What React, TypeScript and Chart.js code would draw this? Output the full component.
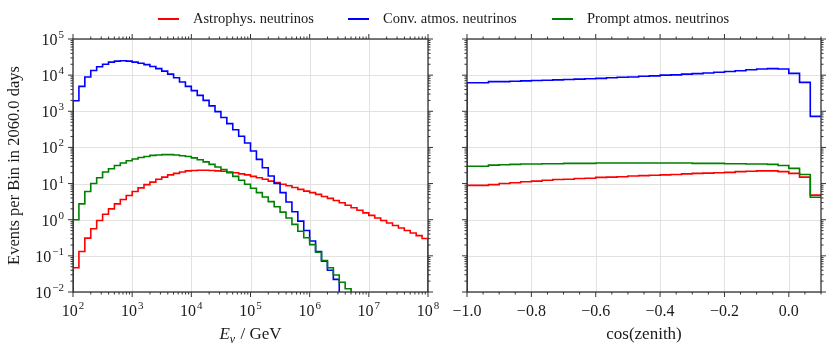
import React, { useEffect, useRef } from 'react';
import { Chart, registerables } from 'chart.js';

Chart.register(...registerables);

// ---------- data ----------
const SERIES_LABELS = ['Astrophys. neutrinos', 'Conv. atmos. neutrinos', 'Prompt atmos. neutrinos'];
const SERIES_COLORS = ['#ff0000', '#0000ff', '#008000'];

// energy histogram: 60 log-spaced bins between 10^2 and 10^8 GeV
const ENERGY_LOG_MIN = 2;
const ENERGY_LOG_MAX = 8;
const ENERGY_BINS = 60;

// cos(zenith) histogram: 33 bins between -1.0 and 0.1
const COSZ_MIN = -1.0;
const COSZ_MAX = 0.1;
const COSZ_BINS = 33;

const ENERGY_ASTRO = [
  0.0468, 0.132, 0.309, 0.562, 0.955, 1.41, 2.0, 2.75, 3.63, 4.68,
  6.03, 7.59, 9.33, 11.0, 13.2, 15.1, 17.4, 19.1, 20.9, 22.4,
  22.9, 23.4, 23.4, 22.9, 22.4, 21.9, 20.9, 20.0, 18.6, 17.4,
  15.8, 14.5, 13.2, 11.7, 10.7, 9.55, 8.71, 7.76, 6.92, 6.17,
  5.62, 5.01, 4.37, 3.89, 3.39, 2.95, 2.51, 2.14, 1.82, 1.55,
  1.32, 1.12, 0.955, 0.813, 0.692, 0.589, 0.501, 0.427, 0.363, 0.302,
];
const ENERGY_CONV = [
  1950, 4900, 8900, 13500, 17000, 20000, 22900, 24500, 25100, 24500,
  22900, 21400, 19500, 17400, 15100, 12900, 10700, 8500, 6460, 4900,
  3720, 2750, 2000, 1410, 977, 676, 457, 309, 204, 132,
  79.4, 46.8, 27.5, 16.2, 10.0, 5.62, 3.09, 1.66, 0.912, 0.501,
  0.257, 0.132, 0.0708, 0.0398, 0.0224, 0, 0, 0, 0, 0,
  0, 0, 0, 0, 0, 0, 0, 0, 0, 0,
];
const ENERGY_PROMPT = [
  1.0, 2.75, 6.03, 10.0, 14.5, 20.9, 25.7, 31.6, 37.2, 42.7,
  47.9, 52.5, 56.2, 60.3, 61.7, 63.1, 63.1, 61.7, 58.9, 56.2,
  51.3, 45.7, 39.8, 33.9, 28.8, 24.5, 20.0, 15.8, 12.3, 9.55,
  7.41, 5.62, 4.27, 3.16, 2.29, 1.62, 1.12, 0.741, 0.479, 0.316,
  0.204, 0.126, 0.0741, 0.0468, 0.0295, 0.0186, 0.0123, 0, 0, 0,
  0, 0, 0, 0, 0, 0, 0, 0, 0, 0,
];

const COSZ_ASTRO = [
  8.91, 8.91, 9.33, 10.0, 10.5, 11.2, 11.7, 12.3, 12.9, 13.2,
  13.8, 14.1, 14.8, 15.1, 15.5, 16.2, 16.6, 17.0, 17.4, 17.8,
  18.6, 19.1, 19.5, 20.0, 20.4, 21.4, 21.9, 22.4, 22.4, 21.4,
  19.1, 15.1, 4.79,
];
const COSZ_CONV = [
  6170, 6170, 6610, 6610, 6760, 6920, 7080, 7240, 7410, 7590,
  7760, 7940, 8130, 8510, 8710, 8910, 9330, 9550, 10000, 10200,
  10700, 11000, 11500, 12000, 12600, 13200, 14100, 14800, 15100, 14800,
  11200, 6310, 724,
];
const COSZ_PROMPT = [
  30.2, 30.2, 32.4, 33.1, 33.9, 34.7, 34.7, 35.5, 35.5, 36.3,
  36.3, 36.3, 37.2, 37.2, 37.2, 37.2, 37.2, 37.2, 37.2, 37.2,
  37.2, 36.3, 36.3, 36.3, 35.5, 35.5, 34.7, 34.7, 33.9, 31.6,
  26.3, 17.8, 4.17,
];

const Y_TICK_EXPONENTS = [-2, -1, 0, 1, 2, 3, 4, 5];
const E_TICK_EXPONENTS = [2, 3, 4, 5, 6, 7, 8];
const COSZ_TICKS = [-1.0, -0.8, -0.6, -0.4, -0.2, 0.0];
const COSZ_TICK_LABELS = ['\u22121.0', '\u22120.8', '\u22120.6', '\u22120.4', '\u22120.2', '0.0'];
const COSZ_MINOR_STEP = 0.05;

const Y_LABEL = 'Events per Bin in 2060.0 days';
const X_LABEL_RIGHT = 'cos(zenith)';

// ---------- style ----------
const FONT = '"Liberation Serif", "DejaVu Serif", serif';
const TEXT = '#1a1a1a';
const AXIS = '#333333';
const GRID = '#e2e2e2';
const FLOOR = 1e-4; // empty bins are drawn below the axis (clipped)

function histPoints(edges: number[], values: number[]) {
  const pts: { x: number; y: number }[] = [{ x: edges[0], y: FLOOR }];
  for (let i = 0; i < values.length; i++) {
    pts.push({ x: edges[i], y: values[i] > 0 ? values[i] : FLOOR });
  }
  const last = values[values.length - 1];
  pts.push({ x: edges[values.length], y: last > 0 ? last : FLOOR });
  pts.push({ x: edges[values.length], y: FLOOR });
  return pts;
}

function line(ctx: CanvasRenderingContext2D, x1: number, y1: number, x2: number, y2: number) {
  ctx.beginPath();
  ctx.moveTo(x1, y1);
  ctx.lineTo(x2, y2);
  ctx.stroke();
}

function drawPow(ctx: CanvasRenderingContext2D, exp: number, x: number, y: number, align: 'center' | 'right') {
  const base = '10';
  const e = exp < 0 ? '\u2212' + Math.abs(exp) : String(exp);
  ctx.textAlign = 'left';
  ctx.textBaseline = 'alphabetic';
  ctx.font = `16px ${FONT}`;
  const wb = ctx.measureText(base).width;
  ctx.font = `11px ${FONT}`;
  const we = ctx.measureText(e).width;
  const total = wb + 1 + we;
  const x0 = align === 'center' ? x - total / 2 : x - total;
  ctx.font = `16px ${FONT}`;
  ctx.fillText(base, x0, y);
  ctx.font = `11px ${FONT}`;
  ctx.fillText(e, x0 + wb + 1, y - 7);
}

const MAJOR = 5;
const MINOR = 2.5;

const decorPlugin = {
  id: 'decor',
  beforeDatasetsDraw(chart: any, _args: any, opts: any) {
    const { ctx, chartArea: a, scales } = chart;
    const xs = scales.x;
    const ys = scales.y;
    ctx.save();
    ctx.strokeStyle = GRID;
    ctx.lineWidth = 1;
    for (const e of Y_TICK_EXPONENTS) {
      const y = Math.round(ys.getPixelForValue(Math.pow(10, e))) + 0.5;
      line(ctx, a.left, y, a.right, y);
    }
    const xMajors = opts.panel === 'left' ? E_TICK_EXPONENTS.map((e) => Math.pow(10, e)) : COSZ_TICKS;
    for (const v of xMajors) {
      const x = Math.round(xs.getPixelForValue(v)) + 0.5;
      line(ctx, x, a.top, x, a.bottom);
    }
    ctx.restore();
  },
  afterDraw(chart: any, _args: any, opts: any) {
    const { ctx, chartArea: a, scales } = chart;
    const xs = scales.x;
    const ys = scales.y;
    ctx.save();
    ctx.strokeStyle = AXIS;
    ctx.fillStyle = TEXT;

    // spines
    ctx.lineWidth = 1.3;
    ctx.strokeRect(a.left, a.top, a.right - a.left, a.bottom - a.top);

    ctx.lineWidth = 1;
    // y ticks (both sides)
    for (let e = Y_TICK_EXPONENTS[0]; e <= Y_TICK_EXPONENTS[Y_TICK_EXPONENTS.length - 1]; e++) {
      const y = ys.getPixelForValue(Math.pow(10, e));
      line(ctx, a.left - MAJOR, y, a.left, y);
      line(ctx, a.right, y, a.right + MAJOR, y);
      if (e < Y_TICK_EXPONENTS[Y_TICK_EXPONENTS.length - 1]) {
        for (let k = 2; k <= 9; k++) {
          const ym = ys.getPixelForValue(k * Math.pow(10, e));
          line(ctx, a.left - MINOR, ym, a.left, ym);
          line(ctx, a.right, ym, a.right + MINOR, ym);
        }
      }
    }
    // x ticks (bottom and top)
    if (opts.panel === 'left') {
      for (const e of E_TICK_EXPONENTS) {
        const x = xs.getPixelForValue(Math.pow(10, e));
        line(ctx, x, a.bottom, x, a.bottom + MAJOR);
        line(ctx, x, a.top - MAJOR, x, a.top);
        if (e < E_TICK_EXPONENTS[E_TICK_EXPONENTS.length - 1]) {
          for (let k = 2; k <= 9; k++) {
            const xm = xs.getPixelForValue(k * Math.pow(10, e));
            line(ctx, xm, a.bottom, xm, a.bottom + MINOR);
            line(ctx, xm, a.top - MINOR, xm, a.top);
          }
        }
      }
    } else {
      for (const v of COSZ_TICKS) {
        const x = xs.getPixelForValue(v);
        line(ctx, x, a.bottom, x, a.bottom + MAJOR);
        line(ctx, x, a.top - MAJOR, x, a.top);
      }
      const n = Math.round((COSZ_MAX - COSZ_MIN) / COSZ_MINOR_STEP);
      for (let i = 0; i <= n; i++) {
        const v = COSZ_MIN + i * COSZ_MINOR_STEP;
        if (COSZ_TICKS.some((t) => Math.abs(t - v) < 1e-6)) continue;
        const x = xs.getPixelForValue(v);
        line(ctx, x, a.bottom, x, a.bottom + MINOR);
        line(ctx, x, a.top - MINOR, x, a.top);
      }
    }

    // tick labels
    if (opts.panel === 'left') {
      for (const e of Y_TICK_EXPONENTS) {
        const y = ys.getPixelForValue(Math.pow(10, e));
        drawPow(ctx, e, a.left - 9, y + 6, 'right');
      }
      for (const e of E_TICK_EXPONENTS) {
        const x = xs.getPixelForValue(Math.pow(10, e));
        drawPow(ctx, e, x, a.bottom + 24, 'center');
      }
      // x label: E_nu / GeV
      ctx.textAlign = 'left';
      ctx.textBaseline = 'alphabetic';
      ctx.font = `italic 17px ${FONT}`;
      const wE = ctx.measureText('E').width;
      ctx.font = `italic 12px ${FONT}`;
      const wNu = ctx.measureText('\u03bd').width;
      ctx.font = `17px ${FONT}`;
      const rest = ' / GeV';
      const wR = ctx.measureText(rest).width;
      const total = wE + wNu + 1 + wR;
      const cx = (a.left + a.right) / 2;
      const by = a.bottom + 47;
      let x0 = cx - total / 2;
      ctx.font = `italic 17px ${FONT}`;
      ctx.fillText('E', x0, by);
      x0 += wE;
      ctx.font = `italic 12px ${FONT}`;
      ctx.fillText('\u03bd', x0, by + 4);
      x0 += wNu + 1;
      ctx.font = `17px ${FONT}`;
      ctx.fillText(rest, x0, by);

      // y label
      ctx.save();
      ctx.translate(15, (a.top + a.bottom) / 2);
      ctx.rotate(-Math.PI / 2);
      ctx.textAlign = 'center';
      ctx.textBaseline = 'middle';
      ctx.font = `16.5px ${FONT}`;
      ctx.fillText(Y_LABEL, 0, 0);
      ctx.restore();

      // legend
      const legendX = [158, 348, 552];
      ctx.font = `14.5px ${FONT}`;
      ctx.textAlign = 'left';
      ctx.textBaseline = 'middle';
      for (let i = 0; i < SERIES_LABELS.length; i++) {
        ctx.strokeStyle = SERIES_COLORS[i];
        ctx.lineWidth = 2;
        line(ctx, legendX[i], 19, legendX[i] + 21, 19);
        ctx.fillStyle = TEXT;
        ctx.fillText(SERIES_LABELS[i], legendX[i] + 35, 19);
      }
    } else {
      ctx.font = `16px ${FONT}`;
      ctx.textAlign = 'center';
      ctx.textBaseline = 'alphabetic';
      COSZ_TICKS.forEach((v, i) => {
        const x = xs.getPixelForValue(v);
        ctx.fillText(COSZ_TICK_LABELS[i], x, a.bottom + 24);
      });
      ctx.font = `17px ${FONT}`;
      ctx.fillText(X_LABEL_RIGHT, (a.left + a.right) / 2, a.bottom + 47);
    }
    ctx.restore();
  },
};

function makeChart(
  canvas: HTMLCanvasElement,
  panel: 'left' | 'right',
  edges: number[],
  series: number[][],
  xType: 'logarithmic' | 'linear',
  xMin: number,
  xMax: number,
  padding: { left: number; right: number; top: number; bottom: number }
) {
  // draw order: dataset 0 ends on top, so list prompt, conv, astro
  const order = [2, 1, 0];
  return new Chart(canvas, {
    type: 'line',
    data: {
      datasets: order.map((i) => ({
        label: SERIES_LABELS[i],
        data: histPoints(edges, series[i]),
        borderColor: SERIES_COLORS[i],
        borderWidth: 1.6,
        pointRadius: 0,
        fill: false,
        tension: 0,
        stepped: 'before' as const,
      })),
    },
    options: {
      animation: false,
      responsive: false,
      devicePixelRatio: 1,
      parsing: true,
      layout: { padding },
      events: [],
      scales: {
        x: { type: xType, min: xMin, max: xMax, display: false },
        y: { type: 'logarithmic', min: 1e-2, max: 1e5, display: false },
      },
      plugins: {
        legend: { display: false },
        tooltip: { enabled: false },
        title: { display: false },
        decor: { panel },
      } as any,
    },
    plugins: [decorPlugin],
  } as any);
}

export default function App() {
  const leftRef = useRef<HTMLCanvasElement>(null);
  const rightRef = useRef<HTMLCanvasElement>(null);

  useEffect(() => {
    const eEdges: number[] = [];
    for (let i = 0; i <= ENERGY_BINS; i++) {
      eEdges.push(Math.pow(10, ENERGY_LOG_MIN + ((ENERGY_LOG_MAX - ENERGY_LOG_MIN) * i) / ENERGY_BINS));
    }
    const cEdges: number[] = [];
    for (let i = 0; i <= COSZ_BINS; i++) {
      cEdges.push(COSZ_MIN + ((COSZ_MAX - COSZ_MIN) * i) / COSZ_BINS);
    }
    const c1 = makeChart(
      leftRef.current!,
      'left',
      eEdges,
      [ENERGY_ASTRO, ENERGY_CONV, ENERGY_PROMPT],
      'logarithmic',
      Math.pow(10, ENERGY_LOG_MIN),
      Math.pow(10, ENERGY_LOG_MAX),
      { left: 73, right: 402, top: 39, bottom: 59 }
    );
    const c2 = makeChart(
      rightRef.current!,
      'right',
      cEdges,
      [COSZ_ASTRO, COSZ_CONV, COSZ_PROMPT],
      'linear',
      COSZ_MIN,
      COSZ_MAX,
      { left: 467, right: 9, top: 39, bottom: 59 }
    );
    return () => {
      c1.destroy();
      c2.destroy();
    };
  }, []);

  return (
    <div style={{ position: 'absolute', left: 0, top: 0, width: 830, height: 351, background: '#ffffff' }}>
      <canvas ref={leftRef} width={830} height={351} style={{ position: 'absolute', left: 0, top: 0 }} />
      <canvas ref={rightRef} width={830} height={351} style={{ position: 'absolute', left: 0, top: 0 }} />
    </div>
  );
}
